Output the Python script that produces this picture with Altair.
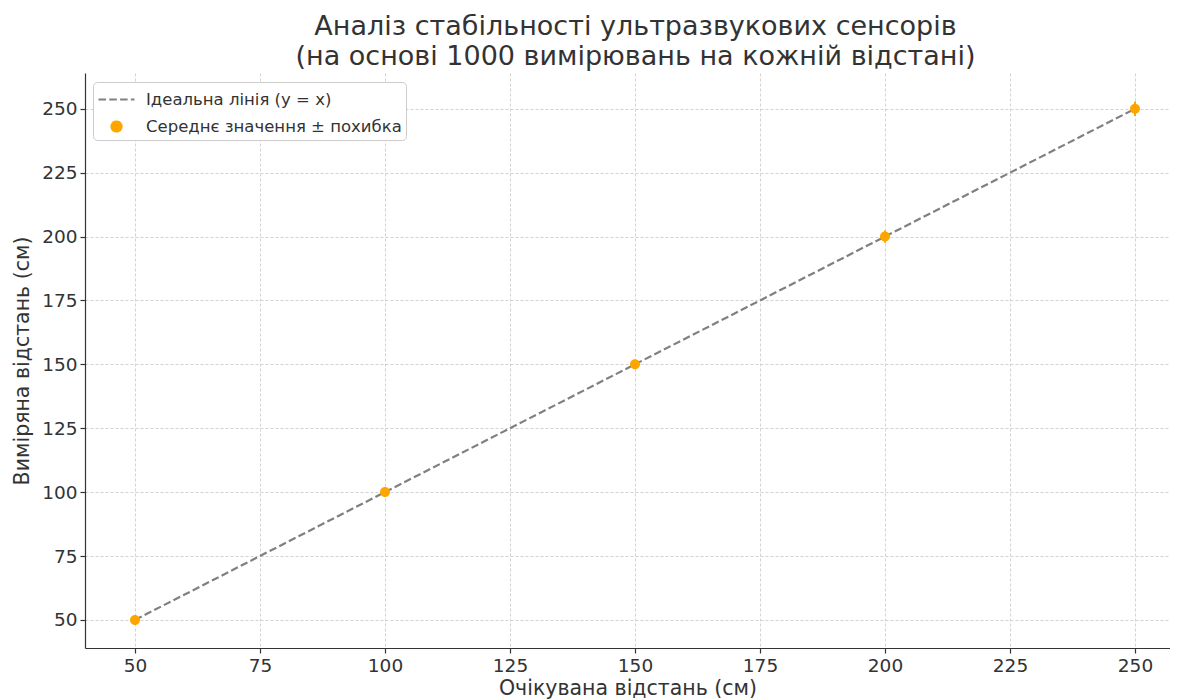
import altair as alt
import pandas as pd

expected = [50, 100, 150, 200, 250]
measured_mean = [50.0, 100.0, 150.0, 200.0, 250.0]
measured_err = [0.8, 1.1, 1.5, 2.4, 2.8]
ideal_x = [50, 250]
ideal_y = [50, 250]
series_names = ["Ідеальна лінія (y = x)", "Середнє значення ± похибка"]
tick_values = [50, 75, 100, 125, 150, 175, 200, 225, 250]

pts = pd.DataFrame({
    "x": expected,
    "y": measured_mean,
    "lo": [m - e for m, e in zip(measured_mean, measured_err)],
    "hi": [m + e for m, e in zip(measured_mean, measured_err)],
    "series": series_names[1],
})
ideal = pd.DataFrame({"x": ideal_x, "y": ideal_y, "series": series_names[0]})

FONT = "DejaVu Sans"
TXT = "#333333"
ORANGE = "#FFA500"

xs = alt.Scale(domain=[40, 257], nice=False, zero=False)
ys = alt.Scale(domain=[39, 264], nice=False, zero=False)

SYM = 576  # symbol size -> half-size 12px
r = 0.417
circle_path = f"M-{r},0A{r},{r} 0 1,1 {r},0A{r},{r} 0 1,1 -{r},0Z"
line_path = "M-1.5,0L1.5,0"

color_scale = alt.Scale(domain=series_names, range=["#808080", ORANGE])
shape_scale = alt.Scale(domain=series_names, range=[line_path, circle_path])
dash_scale = alt.Scale(domain=series_names, range=[[7.5, 3.3], [1, 0]])

legend = alt.Legend(title=None, orient="none", legendX=8, legendY=9)

xaxis = alt.Axis(values=tick_values, title="Очікувана відстань (см)")
yaxis = alt.Axis(values=tick_values, title="Виміряна відстань (см)")

line = alt.Chart(ideal).mark_line(strokeWidth=2.2).encode(
    x=alt.X("x:Q", scale=xs, axis=xaxis),
    y=alt.Y("y:Q", scale=ys, axis=yaxis),
    color=alt.Color("series:N", scale=color_scale, legend=legend),
    strokeDash=alt.StrokeDash("series:N", scale=dash_scale, legend=legend),
)

err = alt.Chart(pts).mark_rule(color=ORANGE, strokeWidth=2).encode(
    x=alt.X("x:Q", scale=xs),
    y=alt.Y("lo:Q", scale=ys),
    y2="hi:Q",
)

points = alt.Chart(pts).mark_point(filled=True, opacity=1, size=SYM, strokeWidth=0).encode(
    x=alt.X("x:Q", scale=xs),
    y=alt.Y("y:Q", scale=ys),
    color=alt.Color("series:N", scale=color_scale, legend=legend),
    shape=alt.Shape("series:N", scale=shape_scale, legend=legend),
)

chart = alt.layer(line, err, points).properties(
    width=1085,
    height=575,
    title=alt.TitleParams(
        text=["Аналіз стабільності ультразвукових сенсорів",
              "(на основі 1000 вимірювань на кожній відстані)"],
        fontSize=27, font=FONT, fontWeight="normal", color=TXT,
        anchor="middle", offset=2, lineHeight=30, dx=8,
    ),
    autosize=alt.AutoSizeParams(type="none"),
    padding={"left": 77, "top": 65, "right": 0, "bottom": 51},
).configure_view(stroke=None).configure_axis(
    labelFont=FONT, titleFont=FONT, labelFontSize=18.5, titleFontSize=20.5,
    labelColor=TXT, titleColor=TXT, titleFontWeight="normal",
    domainColor=TXT, domainWidth=1.2, tickColor=TXT, tickSize=5, tickWidth=1.2,
    gridColor="#d3d3d3", gridDash=[3, 2], gridWidth=1, labelPadding=3,
).configure_axisY(titlePadding=9).configure_axisX(titlePadding=4).configure_legend(
    labelFont=FONT, labelFontSize=16.5, labelColor=TXT, labelLimit=500,
    fillColor="white", strokeColor="#cccccc", cornerRadius=4, padding=4,
    symbolSize=SYM, symbolStrokeWidth=2.2, symbolOffset=6, rowPadding=5, labelOffset=16,
)

chart.save("out.html", embed_options={"renderer": "svg", "actions": False})
